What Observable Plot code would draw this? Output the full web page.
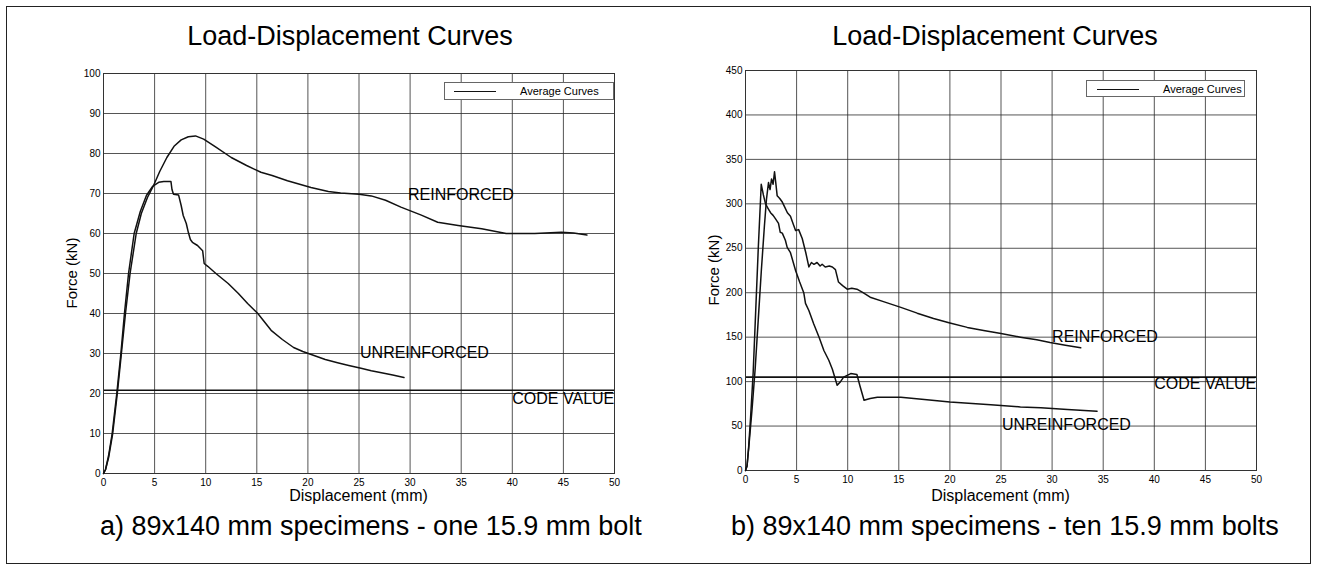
<!DOCTYPE html>
<html><head><meta charset="utf-8">
<script src="https://cdn.jsdelivr.net/npm/d3@7"></script>
<script src="https://cdn.jsdelivr.net/npm/@observablehq/plot@0.6"></script>
<style>
body{margin:0;background:#fff;font-family:"Liberation Sans",Arial,sans-serif;}
#wrap{position:relative;width:1317px;height:567px;overflow:hidden;background:#fff;}
.abs{position:absolute;white-space:nowrap;color:#000;line-height:1;}
.frame{position:absolute;left:6px;top:6px;width:1305px;height:558px;border:1.5px solid #222;box-sizing:border-box;}
.rot{position:absolute;width:0;height:0;}
.rot span{position:absolute;white-space:nowrap;transform:translate(-50%,-50%) rotate(-90deg);font-size:15px;line-height:1;}
.legend{position:absolute;background:#fff;border:1px solid #666;box-sizing:border-box;}
.legend .ln{position:absolute;height:0;border-top:1.5px solid #111;}
.legend .tx{position:absolute;font-size:11px;line-height:1;white-space:nowrap;}
svg{position:absolute;top:0;}
</style></head><body><div id="wrap"></div>
<script>
// ---------- data ----------
const xTicks = [0,5,10,15,20,25,30,35,40,45,50];
const leftYTicks = [0,10,20,30,40,50,60,70,80,90,100];
const rightYTicks = [0,50,100,150,200,250,300,350,400,450];

const titleText = "Load-Displacement Curves";
const xLabel = "Displacement (mm)";
const yLabel = "Force (kN)";
const legendText = "Average Curves";
const captionA = "a) 89x140 mm specimens - one 15.9 mm bolt";
const captionB = "b) 89x140 mm specimens - ten 15.9 mm bolts";

// a) one bolt
const aReinfX = [0,0.2,0.5,0.9,1.35,1.75,2.15,2.6,3.2,3.7,4.3,4.9,5.5,6.2,6.9,7.6,8.3,9.0,9.8,11,12.5,14,15.4,16.5,18,20.3,22,23.2,25,26.2,27.6,29.1,31.1,32.7,34.7,37,39.4,42.2,44.8,46,47.3];
const aReinfY = [0,1,4,10,20,30,40,50,60,65,69,72,75.5,79,81.8,83.4,84.2,84.4,83.6,81.6,79,77,75.3,74.5,73.2,71.5,70.5,70.1,69.8,69.4,68.3,66.6,64.6,62.8,62,61.2,60,60,60.3,60.1,59.6];
const aUnreX = [0,0.2,0.5,0.85,1.3,1.7,2.05,2.45,3.0,3.6,4.2,4.8,5.4,5.9,6.6,6.7,6.85,7.35,7.6,7.8,8.1,8.3,8.5,8.7,9.2,9.7,9.85,10.2,11,12.2,13.2,14.1,15.1,16.4,17.5,18.6,19.5,20.6,21.7,22.9,24,25.2,26.2,27.2,28.3,29.4];
const aUnreY = [0,1,4.5,10,20,30,40,50,60,65.5,69.5,71.8,72.8,73,73,71,69.8,69.6,67,64.5,62.5,60.3,58.5,57.8,57,55.7,52.5,51.8,50,47.5,45,42.5,40,35.8,33.5,31.5,30.5,29.5,28.5,27.7,27,26.3,25.7,25.2,24.6,24];
const aCode = 20.8;

// b) ten bolts
const bReinfX = [0,0.15,0.35,0.65,0.95,1.25,1.55,1.85,2.05,2.25,2.4,2.55,2.7,2.84,2.95,3.1,3.35,3.6,3.85,4.1,4.4,4.65,4.9,5.2,5.55,5.9,6.2,6.45,6.7,7.0,7.3,7.5,7.8,8.2,8.5,8.8,9.1,9.5,9.95,10.4,10.9,11.5,12.2,13.5,15.2,16.8,18.4,20,21.7,23.3,25,26.9,28.5,29.8,31.3,32.8];
const bReinfY = [0,5,30,70,115,170,225,275,305,324,316,328,322,336,325,309,306,302,296,290,286,278,270,271,261,245,229,234,232,234,230,232,229,230,229,226,212,208,204,205,204,200,195,190,183.5,177,171,166,161,157.5,154,150,147,144,141,138];
const bUnreX = [0,0.15,0.3,0.5,0.75,1.0,1.25,1.54,1.75,1.96,2.2,2.45,2.7,2.94,3.23,3.4,3.6,3.9,4.08,4.4,4.9,5.3,5.7,5.87,6.2,6.67,7.2,7.67,8.15,8.5,8.97,9.3,9.6,10.3,10.9,11.2,11.6,12.2,12.9,15.2,17.5,20,24,26.9,28.9,31.5,34.4];
const bUnreY = [0,5,25,60,110,180,250,322,310,300,295,290,287,283,278,268,267,259,251,245,225,212,200,188,180,165,150,135,124,114,96,100,105,109,108,95,79,81,82.5,82.5,80,77,74,71.5,70.5,68.5,66.7];
const bCode = 105;

const labelTexts = ["REINFORCED","UNREINFORCED","CODE VALUE"];
const aLabelX = [29.8,25.1,40];
const aLabelY = [69.75,30.25,18.75];
const bLabelX = [30,25.1,40];
const bLabelY = [150.7,51.7,97.5];

// ---------- build ----------
const zip = (xs, ys) => xs.map((x,i)=>({x, y: ys[i]}));
const FONT = "Liberation Sans, Arial, Helvetica, sans-serif";

function chart(o){
  const labels = labelTexts.map((t,i)=>({t, x:o.lx[i], y:o.ly[i]}));
  return Plot.plot({
    width:o.width, height:567,
    marginLeft:o.ml, marginRight:o.mr, marginTop:o.mt, marginBottom:o.mb,
    style:{fontFamily:FONT, background:"transparent", overflow:"visible", color:"#000"},
    x:{domain:[0,50]},
    y:{domain:[0,o.yMax]},
    marks:[
      Plot.gridX(xTicks,{stroke:"#2a2a2a", strokeOpacity:0.8, strokeWidth:1}),
      Plot.gridY(o.yTicks,{stroke:"#2a2a2a", strokeOpacity:0.8, strokeWidth:1}),
      Plot.ruleY([o.code],{stroke:"#111", strokeWidth:1.6}),
      Plot.frame({stroke:"#333", strokeWidth:1}),
      Plot.axisX(xTicks,{tickSize:0, tickPadding:5, fontSize:10, label:null, fill:"#000"}),
      Plot.axisY(o.yTicks,{tickSize:0, tickPadding:3, fontSize:10, label:null, fill:"#000"}),
      Plot.line(zip(o.rx,o.ry),{x:"x",y:"y",stroke:"#111",strokeWidth:1.5}),
      Plot.line(zip(o.ux,o.uy),{x:"x",y:"y",stroke:"#111",strokeWidth:1.5}),
      Plot.text(labels,{x:"x",y:"y",text:"t",textAnchor:"start",fontSize:16,fill:"#000"})
    ]
  });
}

const wrap = document.getElementById("wrap");
const svgA = chart({width:660, ml:103, mr:46, mt:73, mb:94, yMax:100, yTicks:leftYTicks, code:aCode,
  rx:aReinfX, ry:aReinfY, ux:aUnreX, uy:aUnreY, lx:aLabelX, ly:aLabelY});
svgA.style.left = "0px";
const svgB = chart({width:657, ml:85, mr:61, mt:70, mb:97, yMax:450, yTicks:rightYTicks, code:bCode,
  rx:bReinfX, ry:bReinfY, ux:bUnreX, uy:bUnreY, lx:bLabelX, ly:bLabelY});
svgB.style.left = "660px";
wrap.appendChild(svgA);
wrap.appendChild(svgB);

function text(str, left, baseline, size, anchor){
  const d = document.createElement("div");
  d.className = "abs";
  d.textContent = str;
  d.style.fontSize = size + "px";
  d.style.top = (baseline - 0.8465*size) + "px";
  if (anchor === "middle") { d.style.left = left + "px"; d.style.transform = "translateX(-50%)"; }
  else d.style.left = left + "px";
  wrap.appendChild(d);
}
function rotText(str, cx, cy){
  const d = document.createElement("div");
  d.className = "rot"; d.style.left = cx+"px"; d.style.top = cy+"px";
  const s = document.createElement("span"); s.textContent = str; d.appendChild(s);
  wrap.appendChild(d);
}
function legend(left, top, w, h, l1, l2, tx){
  const d = document.createElement("div");
  d.className = "legend";
  d.style.left = left+"px"; d.style.top = top+"px"; d.style.width = w+"px"; d.style.height = h+"px";
  const ln = document.createElement("div"); ln.className="ln";
  ln.style.left = l1+"px"; ln.style.width = l2+"px"; ln.style.top = (h/2-1)+"px";
  const t = document.createElement("div"); t.className="tx"; t.textContent = legendText;
  t.style.left = tx+"px"; t.style.top = (h/2-6)+"px";
  d.appendChild(ln); d.appendChild(t);
  wrap.appendChild(d);
}

const fr = document.createElement("div"); fr.className = "frame"; wrap.appendChild(fr);

text(titleText, 350, 46, 27, "middle");
text(titleText, 995, 46, 27, "middle");
text(xLabel, 358.5, 502, 16, "middle");
text(xLabel, 1000.5, 502, 16, "middle");
rotText(yLabel, 71, 273);
rotText(yLabel, 713, 270);
text(captionA, 100, 536, 27, "start");
text(captionB, 731, 536, 27, "start");
legend(444, 82, 170, 18, 9, 42, 75);
legend(1086, 80, 159, 17, 10, 42, 76);
</script>
</body></html>
